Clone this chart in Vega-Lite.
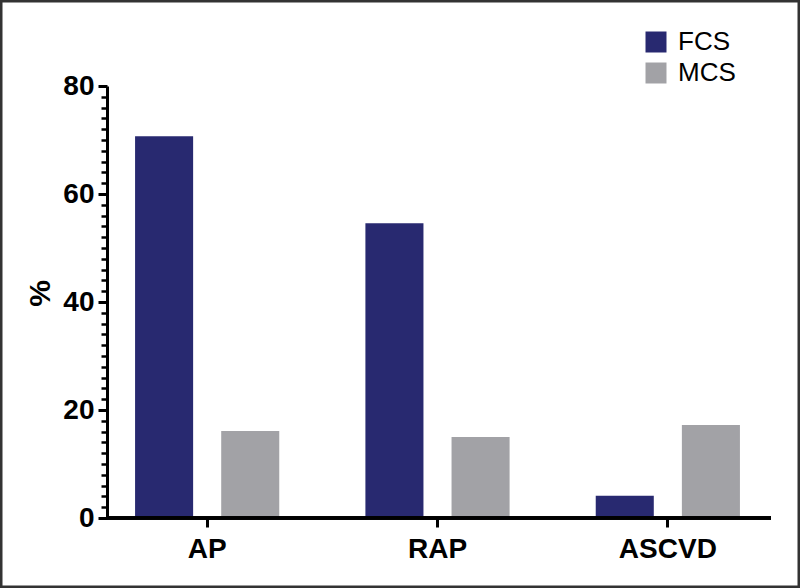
{
  "$schema": "https://vega.github.io/schema/vega-lite/v6.json",
  "width": 800,
  "height": 588,
  "autosize": "none",
  "padding": 0,
  "background": "white",
  "config": {
    "view": {"stroke": "#333333", "strokeWidth": 5},
    "font": "Liberation Sans"
  },
  "data": {
    "values": [
      {"category": "AP", "group": "FCS", "value": 70.7},
      {"category": "AP", "group": "MCS", "value": 16.1},
      {"category": "RAP", "group": "FCS", "value": 54.6},
      {"category": "RAP", "group": "MCS", "value": 15.0},
      {"category": "ASCVD", "group": "FCS", "value": 4.1},
      {"category": "ASCVD", "group": "MCS", "value": 17.2}
    ]
  },
  "layer": [
    {
      "mark": {"type": "bar"},
      "encoding": {
        "x": {
          "field": "category", "type": "nominal", "sort": ["AP", "RAP", "ASCVD"],
          "scale": {"range": [92, 783], "paddingInner": 0, "paddingOuter": 0},
          "axis": {
            "title": null, "labelAngle": 0, "domain": false, "offset": -70,
            "tickSize": 9, "tickWidth": 3, "tickColor": "black",
            "labelFontSize": 28, "labelFontWeight": "bold", "labelColor": "black",
            "labelPadding": 8, "labelFont": "Liberation Sans"
          }
        },
        "xOffset": {
          "field": "group", "type": "nominal",
          "scale": {"paddingInner": 0.326, "paddingOuter": 0.5}
        },
        "y": {
          "field": "value", "type": "quantitative",
          "scale": {"domain": [0, 80], "range": [518, 86], "nice": false},
          "axis": {
            "orient": "left",
            "values": [0, 20, 40, 60, 80], "offset": -107,
            "tickSize": 9, "tickWidth": 3, "tickColor": "black",
            "domainWidth": 3, "domainColor": "black",
            "labelFontSize": 28, "labelFontWeight": "bold", "labelColor": "black",
            "labelPadding": 4, "labelFont": "Liberation Sans", "grid": false,
            "title": "%", "titleFontSize": 30, "titleFontWeight": "bold", "titleColor": "black",
            "titleFont": "Liberation Sans", "titleX": -67, "titleY": 293,
            "titleAlign": "center", "titleBaseline": "middle", "titleAngle": -90
          }
        },
        "color": {
          "field": "group", "type": "nominal",
          "scale": {"domain": ["FCS", "MCS"], "range": ["#282970", "#A2A2A6"]},
          "legend": {
            "title": null, "orient": "none", "legendX": 643, "legendY": 29,
            "symbolType": "square", "symbolSize": 441, "symbolStrokeWidth": 0,
            "labelFontSize": 26, "labelFont": "Liberation Sans", "labelColor": "black",
            "labelOffset": 9, "rowPadding": 5, "padding": 0
          }
        }
      }
    },
    {
      "mark": {"type": "rule", "strokeWidth": 3, "color": "black"},
      "encoding": {
        "y": {
          "datum": 0, "type": "quantitative",
          "axis": {
            "orient": "left",
            "values": [2, 4, 6, 8, 10, 12, 14, 16, 18, 22, 24, 26, 28, 30, 32, 34, 36, 38, 42, 44, 46, 48, 50, 52, 54, 56, 58, 62, 64, 66, 68, 70, 72, 74, 76, 78],
            "offset": -107, "labels": false, "domain": false, "title": null, "grid": false,
            "tickSize": 6, "tickWidth": 2.5, "tickColor": "black"
          }
        },
        "x": {"datum": 0, "type": "quantitative", "scale": {"domain": [0, 1], "range": [107, 771]}, "axis": null},
        "x2": {"datum": 1}
      }
    }
  ],
  "resolve": {"scale": {"x": "independent"}, "axis": {"y": "independent"}}
}
